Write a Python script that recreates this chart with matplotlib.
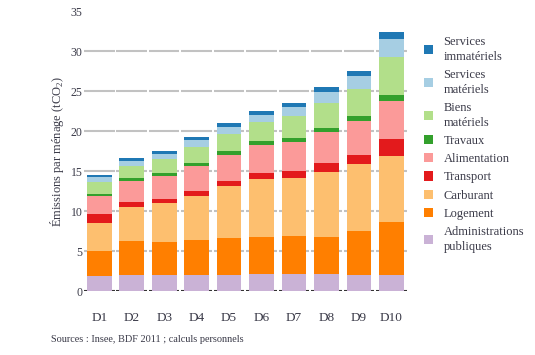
"""
Emissions par menage, par decile de niveau de vie (barres empilees)
"""

import numpy as np
import matplotlib.pyplot as plt
from matplotlib.patches import Patch

# ---------------------------------------------------------------------------- #
# Data (tCO2 par menage)
# ---------------------------------------------------------------------------- #

deciles = ['D1', 'D2', 'D3', 'D4', 'D5', 'D6', 'D7', 'D8', 'D9', 'D10']

administrations = [1.85, 2.0, 2.0, 2.0, 2.0, 2.1, 2.1, 2.1, 2.0, 2.0]
logement = [3.15, 4.25, 4.1, 4.4, 4.6, 4.65, 4.8, 4.65, 5.5, 6.6]
carburant = [3.5, 4.25, 4.9, 5.5, 6.5, 7.25, 7.2, 8.15, 8.4, 8.3]
transport = [1.1, 0.6, 0.5, 0.6, 0.65, 0.75, 0.9, 1.1, 1.1, 2.1]
alimentation = [2.3, 2.65, 2.9, 3.1, 3.25, 3.5, 3.6, 3.9, 4.25, 4.75]
travaux = [0.3, 0.35, 0.35, 0.4, 0.5, 0.5, 0.5, 0.5, 0.65, 0.75]
biens_materiels = [1.45, 1.6, 1.75, 2.0, 2.1, 2.45, 2.8, 3.1, 3.35, 4.75]
services_materiels = [0.6, 0.55, 0.6, 0.95, 0.9, 0.9, 1.1, 1.4, 1.65, 2.25]
services_immateriels = [0.25, 0.35, 0.4, 0.35, 0.5, 0.5, 0.5, 0.6, 0.7, 0.9]

series = [administrations, logement, carburant, transport, alimentation,
          travaux, biens_materiels, services_materiels, services_immateriels]
labels = ['Administrations\npubliques', 'Logement', 'Carburant', 'Transport',
          'Alimentation', 'Travaux', 'Biens\nmatériels', 'Services\nmatériels',
          'Services\nimmatériels']
colours = ['#cab2d6', '#ff7f00', '#fdbf6f', '#e31a1c', '#fb9a99',
           '#33a02c', '#b2df8a', '#a6cee3', '#1f78b4']

yticks = [0, 5, 10, 15, 20, 25, 30, 35]
source = 'Sources : Insee, BDF 2011 ; calculs personnels'

# ---------------------------------------------------------------------------- #
# Style
# ---------------------------------------------------------------------------- #

text_colour = '#3a3a48'
plt.rcParams['font.family'] = ['Liberation Serif', 'DejaVu Serif']
plt.rcParams['mathtext.fontset'] = 'custom'
plt.rcParams['mathtext.rm'] = 'Liberation Serif'

fig = plt.figure(figsize=(5.35, 3.55), dpi=100)
ax = fig.add_axes([84 / 535, 64 / 355, 323 / 535, 279.5 / 355])

x = np.arange(len(deciles))

# Gridlines, one dash per category
gap = 0.03
for y in yticks[:-1]:
    colour = '#333333' if y == 0 else '#c2c2c2'
    for i in x:
        ax.hlines(y, i - 0.5 + gap, i + 0.5 - gap, color=colour, lw=1.5, zorder=0)

bottom = np.zeros(len(deciles))
for values, colour in zip(series, colours):
    ax.bar(x, values, bottom=bottom, width=0.76, color=colour, zorder=2)
    bottom += np.array(values)

ax.set_xlim(-0.47, len(deciles) - 0.52)
ax.set_ylim(0, 35)
ax.set_xticks(x)
ax.set_xticklabels(deciles)
ax.set_yticks(yticks)
ax.tick_params(axis='x', length=0, pad=15, labelsize=9.5, labelcolor=text_colour)
ax.tick_params(axis='y', length=0, pad=1, labelsize=8.5, labelcolor=text_colour)
for spine in ax.spines.values():
    spine.set_visible(False)

ax.set_ylabel(r'Émissions par ménage (tCO$_2$)', fontsize=9, color=text_colour)
ax.yaxis.set_label_coords(-0.056, 0.5)

# Legend, top category first
handles = [Patch(facecolor=c, edgecolor='none') for c in colours[::-1]]
leg = ax.legend(handles, labels[::-1], loc='upper left',
                bbox_to_anchor=(424 / 535, (355 - 36) / 355),
                bbox_transform=fig.transFigure, frameon=False, fontsize=9,
                handlelength=0.75, handleheight=0.75, handletextpad=0.8,
                labelspacing=0.5, borderpad=0, borderaxespad=0)
for t in leg.get_texts():
    t.set_color(text_colour)
    t.set_linespacing(1.3)

fig.text(51 / 535, 1 - 340 / 355, source, fontsize=7.4, color=text_colour,
         va='center', ha='left')

fig.savefig('out.png', dpi=100)
plt.close()
